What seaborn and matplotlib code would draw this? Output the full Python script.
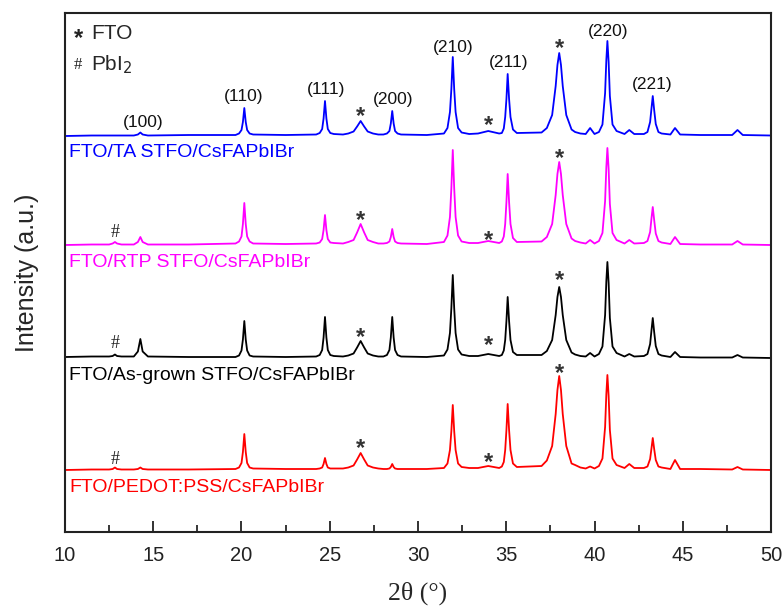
# %% XRD patterns, four stacked films
import matplotlib

matplotlib.use("Agg")
import matplotlib.pyplot as plt
import pandas as pd
import seaborn as sns
from matplotlib.ticker import MultipleLocator

# shared 2theta sample points (deg)
two_theta = [
    10.0, 11.5,
    12.5, 12.7, 12.83, 12.95, 13.2,
    13.9, 14.13, 14.27, 14.4, 14.7,
    17.0,
    19.66, 19.86, 20.0, 20.08, 20.16, 20.24, 20.32, 20.46, 20.66,
    22.5,
    24.23, 24.43, 24.57, 24.65, 24.73, 24.81, 24.89, 25.03, 25.23,
    25.75, 26.05, 26.35, 26.55, 26.75, 26.95, 27.15, 27.45, 27.75,
    28.04, 28.24, 28.38, 28.46, 28.54, 28.62, 28.70, 28.84, 29.04,
    30.5,
    31.47, 31.67, 31.81, 31.89, 31.97, 32.05, 32.13, 32.27, 32.47, 32.9,
    33.4, 33.98, 34.6,
    34.75, 34.86, 34.94, 35.01, 35.08, 35.16, 35.24, 35.38, 35.6,
    37.0, 37.3, 37.6, 37.8, 37.9, 38.0, 38.1, 38.2, 38.4, 38.7, 38.9, 39.2,
    39.5, 39.75, 40.0,
    40.25, 40.45, 40.6, 40.67, 40.73, 40.8, 40.87, 41.02, 41.25,
    41.7, 41.97, 42.25,
    42.8, 43.0, 43.15, 43.23, 43.3, 43.38, 43.47, 43.62, 43.8,
    44.3, 44.56, 44.85,
    46.0,
    47.8, 48.1, 48.4,
    50.0,
]

# intensities above each trace's own baseline (a.u.)
int_ta = [
    0, 0.5,
    0.5, 0.5, 0.5, 0.5, 0.5,
    0.5, 1.5, 3.5, 1.5, 0.5,
    1,
    1, 2.5, 6, 14, 28, 14, 6, 2.5, 1.5,
    1,
    1.5, 3, 7, 17.5, 35, 17.5, 7, 3, 2,
    1.5, 2.5, 4.5, 9.5, 15, 9.5, 4.5, 2.5, 1.5,
    1.5, 2.5, 5, 12.5, 25, 12.5, 5, 2.5, 1.5,
    1,
    2.5, 8, 24, 47, 79, 47, 24, 8, 3.5, 2,
    2.5, 5, 2.5,
    3, 7.5, 19, 37, 62, 37, 19, 6.5, 3,
    3.5, 8, 21, 50, 71, 83, 71, 50, 21, 6.5, 4, 2.5,
    2, 8, 2,
    4, 11.5, 43, 76, 95, 74, 40, 11.5, 5,
    2, 6, 2,
    2, 4, 14, 28, 40, 26, 12, 4, 2.5,
    1.5, 8, 1.5,
    1,
    1, 6, 1,
    0.5,
]
int_rtp = [
    0, 0.5,
    0.5, 1.5, 3, 1.5, 0.5,
    0.5, 3, 8, 3, 0.5,
    0.5,
    1.5, 3.5, 8.5, 21, 42, 21, 8.5, 3.5, 1.5,
    1,
    1.5, 2.5, 6, 15, 30, 15, 6, 2.5, 2,
    1.5, 3, 5, 12.5, 21, 12.5, 5, 3, 1.5,
    1.5, 2, 3.5, 8, 16, 8, 3.5, 2, 1.5,
    1,
    3, 9.5, 28, 57, 95, 57, 28, 9.5, 3.5, 2,
    2, 4, 2,
    3.5, 8.5, 21, 43, 71, 43, 21, 7, 3,
    3.5, 8, 21, 50, 71, 83, 71, 50, 21, 6.5, 4, 2.5,
    1.5, 5, 1.5,
    4, 12, 44, 78, 97, 76, 41, 12, 5,
    1.5, 5, 1.5,
    2, 4, 13, 27, 38, 25, 11.5, 4, 2.5,
    1, 8, 1,
    0.5,
    0.5, 4, 0.5,
    0,
]
int_asgrown = [
    1, 1.5,
    1.5, 2, 3.5, 2, 1.5,
    1.5, 6.5, 19, 6.5, 1.5,
    1,
    1, 2.5, 7.5, 18.5, 37, 18.5, 7.5, 2.5, 1.5,
    1,
    1.5, 3, 8, 20.5, 41, 20.5, 8, 3, 2,
    1.5, 2.5, 4.5, 10.5, 17, 10.5, 4.5, 2.5, 1.5,
    1.5, 3, 8, 20.5, 41, 20.5, 8, 3, 1.5,
    1,
    2.5, 8.5, 25, 50, 83, 50, 25, 8.5, 3.5, 2,
    2, 4, 2,
    3, 7.5, 18, 37, 61, 37, 18, 6, 3,
    3, 7, 18, 43, 61, 71, 61, 43, 18, 5.5, 3.5, 2,
    1.5, 5, 1.5,
    4, 11.5, 43, 77, 96, 75, 40, 11.5, 5,
    1.5, 4, 1.5,
    2, 4, 14, 28, 40, 26, 12, 4, 2.5,
    1, 6, 1,
    0.5,
    0.5, 3, 0.5,
    0,
]
int_pedot = [
    0, 0.5,
    0.5, 1, 2.5, 1, 0.5,
    0.5, 1, 2.5, 1, 0.5,
    0.5,
    1, 2.5, 7, 18, 36, 18, 7, 2.5, 1.5,
    1,
    1, 1.5, 2.5, 6, 12, 6, 2.5, 1.5, 1.5,
    1.5, 2.5, 4.5, 10.5, 17, 10.5, 4.5, 2.5, 1.5,
    1, 1, 1.5, 3, 6, 3, 1.5, 1, 1,
    1,
    2, 6.5, 20, 39, 65, 39, 20, 6.5, 3, 2,
    2, 4, 2,
    3.5, 8, 20, 40, 66, 40, 20, 6.5, 3,
    4, 9.5, 24, 56, 80, 94, 80, 56, 24, 6.5, 5, 2.5,
    1.5, 3.5, 1.5,
    4, 11.5, 43, 76, 95, 74, 40, 11.5, 5,
    2, 6, 2,
    2, 3.5, 11, 22, 32, 21, 10, 3.5, 2.5,
    1, 10, 1,
    1,
    0.5, 3, 0.5,
    0,
]

samples = [
    "FTO/TA STFO/CsFAPbIBr",
    "FTO/RTP STFO/CsFAPbIBr",
    "FTO/As-grown STFO/CsFAPbIBr",
    "FTO/PEDOT:PSS/CsFAPbIBr",
]
offsets = [396, 287, 174, 62]
colors = ["#0000ff", "#ff00ff", "#000000", "#ff0000"]
traces = [int_ta, int_rtp, int_asgrown, int_pedot]

hkl_labels = ["(100)", "(110)", "(111)", "(200)", "(210)", "(211)", "(220)", "(221)"]
hkl_pos = [14.44, 20.12, 24.79, 28.6, 32.02, 35.14, 40.77, 43.29]
hkl_y = [410, 436, 443, 433, 485, 470, 501, 448]

# FTO (*) marks per trace, and PbI2 (#) marks
fto_pos = [26.75, 33.98, 38.0]
fto_y = [[421, 412, 489], [317, 297, 379], [200, 192, 257], [89, 75, 164]]
pbi2_pos = 12.83
pbi2_y = [None, 300, 189, 73]
label_y = [380, 270, 157, 45]

frames = []
for name, off, vals in zip(samples, offsets, traces):
    assert len(vals) == len(two_theta)
    frames.append(
        pd.DataFrame(
            {"two_theta": two_theta, "intensity": [v + off for v in vals], "sample": name}
        )
    )
df = pd.concat(frames, ignore_index=True)

# %% Plot
sns.set_style("ticks")
plt.rcParams["font.family"] = ["Liberation Sans", "DejaVu Sans"]

fig = plt.figure(figsize=(7.83, 6.08), dpi=100)
ax = fig.add_axes([0.083, 0.125, 0.9017, 0.8536])

sns.lineplot(
    data=df,
    x="two_theta",
    y="intensity",
    hue="sample",
    palette=dict(zip(samples, colors)),
    estimator=None,
    sort=False,
    legend=False,
    linewidth=1.3,
    ax=ax,
)

ax.set_xlim(10, 50)
ax.set_ylim(0, 519)
ax.set_yticks([])
ax.xaxis.set_major_locator(MultipleLocator(5))
ax.xaxis.set_minor_locator(MultipleLocator(2.5))
ax.tick_params(axis="x", which="major", direction="in", length=8, width=1.3,
               labelsize=14.5, pad=10, colors="#222222")
ax.tick_params(axis="x", which="minor", direction="in", length=5, width=1.3)
for s in ax.spines.values():
    s.set_visible(True)
    s.set_linewidth(1.5)
    s.set_color("#222222")

ax.set_xlabel("2θ (°)", family="Liberation Serif", fontsize=18.5, labelpad=12)
ax.set_ylabel("Intensity (a.u.)", fontsize=18, labelpad=19)

# Miller indices above the top trace
for lab, x, y in zip(hkl_labels, hkl_pos, hkl_y):
    ax.text(x, y, lab, ha="center", va="center", fontsize=12.5, color="#111111")

# sample names
for name, y, c in zip(samples, label_y, colors):
    ax.text(10.24, y, name, ha="left", va="center", fontsize=14, color=c)

# phase markers
for ys in fto_y:
    for x, y in zip(fto_pos, ys):
        ax.text(x, y - 12, "*", ha="center", va="baseline", fontsize=17,
                color="#333333", fontweight="bold")
for y in pbi2_y:
    if y is not None:
        ax.text(pbi2_pos, y, "#", ha="center", va="center", fontsize=13,
                family="Liberation Serif", color="#222222")

# key in the upper left
ax.text(10.75, 499 - 12, "*", ha="center", va="baseline", fontsize=17,
        color="#222222", fontweight="bold")
ax.text(11.47, 499, "FTO", ha="left", va="center", fontsize=15)
ax.text(10.75, 467, "#", ha="center", va="center", fontsize=12,
        family="Liberation Serif", color="#222222")
ax.text(11.47, 467, "PbI$_2$", ha="left", va="center", fontsize=15)

plt.savefig("out.png", dpi=100)
